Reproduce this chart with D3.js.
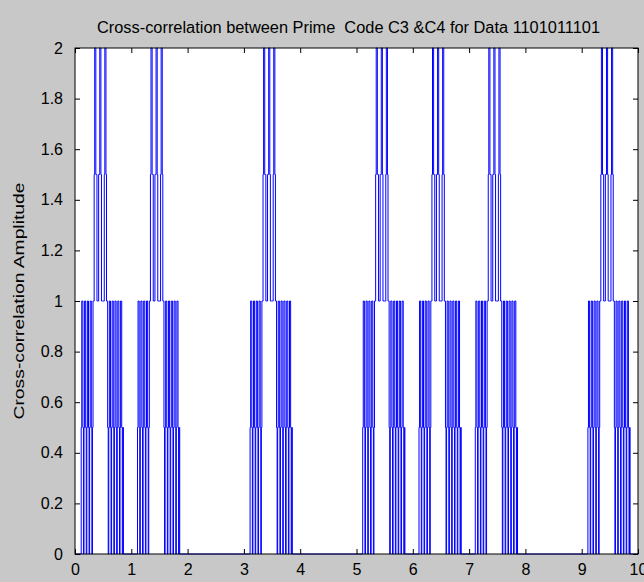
<!DOCTYPE html>
<html>
<head>
<meta charset="utf-8">
<script src="https://cdn.jsdelivr.net/npm/d3@7"></script>
<style>
  body { margin: 0; background: #c8c8c8; }
  svg { display: block; font-family: "Liberation Sans", Arial, sans-serif; }
</style>
</head>
<body>
<div id="chart"></div>
<script>
// data bits 1101011101, one bit per unit of time
const dataBits = [1, 1, 0, 1, 0, 1, 1, 1, 0, 1];

const clusterShape = [
  0, 0, 0, 0, 0, 0, 0, 0, 0, 0, 0,
  0.5, 1, 1, 0.5, 0,
  0.5, 1, 1, 0.5, 0,
  0.5, 1, 1, 0.5, 0,
  0.5, 1, 1, 0.5, 0,
  0.5, 1, 1, 1.5,
  2, 2, 1.5, 1.5, 1, 1, 1, 1.5, 1.5, 2, 2, 1.5, 1, 1, 1, 1, 1, 1.5, 2, 2, 1.5, 1,
  1, 0.5, 0,
  0.5, 1, 1, 0.5, 0,
  0.5, 1, 1, 0.5, 0,
  0.5, 1, 1, 0.5, 0,
  0.5, 1, 1, 0.5, 0,
  0.5, 1, 1, 0.5, 0,
  0.5, 0,
  0, 0, 0, 0, 0, 0, 0, 0, 0, 0, 0, 0, 0
];

const xTicks = [0, 1, 2, 3, 4, 5, 6, 7, 8, 9, 10];
const yTicks = [0, 0.2, 0.4, 0.6, 0.8, 1, 1.2, 1.4, 1.6, 1.8, 2];
const titleText = "Cross-correlation between Prime  Code C3 &C4 for Data 1101011101";
const yLabelText = "Cross-correlation Amplitude";

(function(){
    const fullWidth = 644;
    const fullHeight = 582;
    const margin = { top: 48, left: 75, bottom: 28, right: 6 };
    const width = fullWidth - margin.left - margin.right;
    const height = fullHeight - margin.top - margin.bottom;

    // build the stair series from the bits and the per-bit shape
    const step = 1 / clusterShape.length;
    const series = [];
    dataBits.forEach((b, k) => {
        clusterShape.forEach((v, i) => {
            series.push({ t: k + i * step, v: b ? v : 0 });
        });
    });
    series.push({ t: dataBits.length, v: 0 });

    const svg = d3.select('#chart')
        .append('svg')
            .attr('width', fullWidth)
            .attr('height', fullHeight);

    svg.append('rect')
        .attr('width', fullWidth)
        .attr('height', fullHeight)
        .attr('fill', '#c8c8c8');

    const g = svg.append('g')
        .attr('transform', `translate(${margin.left}, ${margin.top})`);

    const xScale = d3.scaleLinear().domain([0, 10]).range([0, width]);
    const yScale = d3.scaleLinear().domain([0, 2]).range([height, 0]);

    g.append('rect')
        .attr('width', width)
        .attr('height', height)
        .attr('fill', '#ffffff');

    const line = d3.line()
        .x(d => xScale(d.t))
        .y(d => yScale(d.v))
        .curve(d3.curveStepAfter);

    g.append('path')
        .datum(series)
        .attr('d', line)
        .attr('fill', 'none')
        .attr('stroke', '#0000ff')
        .attr('stroke-width', 1);

    // axes, ticks pointing inward on all four sides
    const styleAxis = sel => {
        sel.select('.domain').remove();
        sel.selectAll('.tick line').attr('stroke', '#000');
        sel.selectAll('.tick text')
            .attr('fill', '#000')
            .style('font-size', '16px')
            .style('font-family', '"Liberation Sans", Arial, sans-serif');
    };

    g.append('g')
        .attr('transform', `translate(0, ${height})`)
        .call(d3.axisBottom(xScale).tickValues(xTicks).tickSizeInner(-5).tickSizeOuter(0).tickPadding(10))
        .call(styleAxis);

    g.append('g')
        .call(d3.axisTop(xScale).tickValues(xTicks).tickSizeInner(-5).tickSizeOuter(0).tickFormat(''))
        .call(styleAxis);

    g.append('g')
        .call(d3.axisLeft(yScale).tickValues(yTicks).tickSizeInner(-5).tickSizeOuter(0).tickPadding(12)
            .tickFormat(d => String(+d.toFixed(1))))
        .call(styleAxis);

    g.append('g')
        .attr('transform', `translate(${width}, 0)`)
        .call(d3.axisRight(yScale).tickValues(yTicks).tickSizeInner(-5).tickSizeOuter(0).tickFormat(''))
        .call(styleAxis);

    g.append('rect')
        .attr('width', width)
        .attr('height', height)
        .attr('fill', 'none')
        .attr('stroke', '#000')
        .attr('stroke-width', 1);

    svg.append('text')
        .attr('x', margin.left + width / 2 - 8)
        .attr('y', 33)
        .attr('text-anchor', 'middle')
        .attr('textLength', 503)
        .attr('lengthAdjust', 'spacingAndGlyphs')
        .style('font-size', '16px')
        .style('white-space', 'pre')
        .attr('fill', '#000')
        .text(titleText);

    svg.append('text')
        .attr('transform', `translate(24, ${margin.top + height / 2}) rotate(-90)`)
        .attr('text-anchor', 'middle')
        .attr('textLength', 237)
        .attr('lengthAdjust', 'spacingAndGlyphs')
        .style('font-size', '15px')
        .attr('fill', '#000')
        .text(yLabelText);
}())
</script>
</body>
</html>
